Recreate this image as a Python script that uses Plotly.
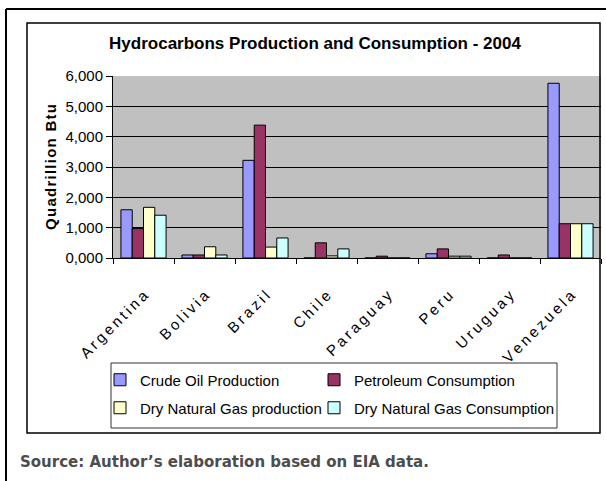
import plotly.graph_objects as go

countries = ["Argentina", "Bolivia", "Brazil", "Chile", "Paraguay", "Peru", "Uruguay", "Venezuela"]
crude_oil_production = [1.59, 0.10, 3.22, 0.0, 0.0, 0.14, 0.0, 5.76]
petroleum_consumption = [0.97, 0.10, 4.38, 0.50, 0.06, 0.30, 0.10, 1.13]
dry_gas_production = [1.67, 0.37, 0.36, 0.07, 0.0, 0.06, 0.0, 1.13]
dry_gas_consumption = [1.41, 0.10, 0.66, 0.30, 0.0, 0.06, 0.0, 1.13]
y_ticks = [0, 1, 2, 3, 4, 5, 6]

series = [
    ("Crude Oil Production", crude_oil_production, "#9999FF"),
    ("Petroleum Consumption", petroleum_consumption, "#993366"),
    ("Dry Natural Gas production", dry_gas_production, "#FFFFCC"),
    ("Dry Natural Gas Consumption", dry_gas_consumption, "#CCFFFF"),
]

FONT = "Liberation Sans, Arial, sans-serif"
THIN = "\u2009"
HAIR = "\u200a"
x_ticktext = [THIN.join(c) for c in countries]
y_title = HAIR.join("Quadrillion Btu")

W, H = 606, 481
L, R, T, B = 113, 5, 76, 223
PW, PH = W - L - R, H - T - B

def px(x):
    return (x - L) / PW

def py(y):
    return (H - B - y) / PH

fig = go.Figure()
legend_pos = [(100, 380), (314, 380), (100, 408), (314, 408)]
legend_names = ["legend", "legend2", "legend3", "legend4"]
for (name, vals, color), lg in zip(series, legend_names):
    fig.add_trace(go.Bar(
        x=countries, y=vals, name=name, legend=lg,
        marker=dict(color=color, line=dict(color="#000000", width=1)),
    ))

shapes = [
    dict(type="line", xref="paper", yref="paper", x0=px(6), x1=px(620), y0=py(9), y1=py(9),
         line=dict(color="#000000", width=2)),
    dict(type="line", xref="paper", yref="paper", x0=px(6), x1=px(6), y0=py(9), y1=py(500),
         line=dict(color="#000000", width=2)),
    dict(type="rect", xref="paper", yref="paper", x0=px(27), x1=px(600), y0=py(23), y1=py(433),
         line=dict(color="#000000", width=1.5), layer="below"),
    dict(type="rect", xref="paper", yref="paper", x0=px(111), x1=px(557), y0=py(363), y1=py(428),
         line=dict(color="#333333", width=1)),
]

legends = {}
for lg, (lx, ly) in zip(legend_names, legend_pos):
    legends[lg] = dict(orientation="h", x=px(lx), xanchor="left", y=py(ly), yanchor="middle",
                       bgcolor="rgba(0,0,0,0)", font=dict(family=FONT, size=15))

fig.update_layout(
    width=W, height=H,
    margin=dict(l=L, r=R, t=T, b=B, autoexpand=False),
    paper_bgcolor="#FFFFFF",
    plot_bgcolor="#C0C0C0",
    separators=",.",
    barmode="group",
    bargap=0.26,
    bargroupgap=0,
    font=dict(family=FONT, color="#000000", size=15),
    title=dict(text="<b>Hydrocarbons Production and Consumption - 2004</b>",
               xref="container", x=315 / W, xanchor="center", y=1 - 43 / H, yanchor="middle",
               font=dict(family=FONT, size=17, color="#000000")),
    xaxis=dict(
        type="category", tickson="boundaries", ticks="outside", ticklen=5, tickcolor="#000000",
        showline=True, linecolor="#000000", linewidth=1, showgrid=False,
        tickangle=-45, tickfont=dict(family=FONT, size=15),
        tickmode="array", tickvals=countries, ticktext=x_ticktext,
        ticklabelstandoff=22,
        range=[-0.5, 7.5], fixedrange=True,
    ),
    yaxis=dict(
        range=[0, 6], tickvals=y_ticks, tickformat=".3f",
        ticks="outside", ticklen=6, tickcolor="#000000",
        showline=True, linecolor="#000000", linewidth=1,
        showgrid=True, gridcolor="#000000", gridwidth=1,
        zeroline=False, tickfont=dict(family=FONT, size=15),
        title=dict(text="<b>" + y_title + "</b>", standoff=5, font=dict(family=FONT, size=15)),
        fixedrange=True,
    ),
    shapes=shapes,
    annotations=[
        dict(text="<b>Source: Author\u2019s elaboration based on EIA data.</b>", xref="paper", yref="paper",
             x=px(18), y=py(462), xanchor="left", yanchor="middle", showarrow=False,
             font=dict(family="Verdana, DejaVu Sans, sans-serif", size=15, color="#4D4D4D")),
    ],
    showlegend=True,
    **legends,
)

fig.write_html("out.html", config={"displayModeBar": False},
               post_script="document.body.style.margin='0';document.body.style.overflow='hidden';")
